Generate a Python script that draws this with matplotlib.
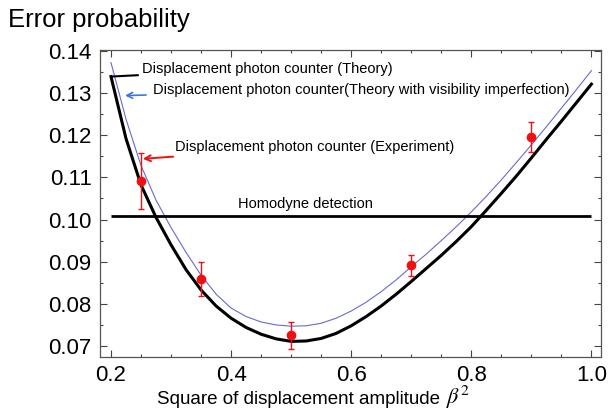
import matplotlib
matplotlib.use("Agg")
import matplotlib.pyplot as plt
from matplotlib.ticker import MultipleLocator

plt.rcParams["font.family"] = ["Liberation Sans", "DejaVu Sans"]
plt.rcParams["mathtext.fontset"] = "stix"

# beta^2 grid for the two theory curves
beta_sq = [0.200, 0.225, 0.250, 0.275, 0.300, 0.325, 0.350, 0.375, 0.400, 0.425,
           0.450, 0.475, 0.500, 0.525, 0.550, 0.575, 0.600, 0.625, 0.650, 0.675,
           0.700, 0.725, 0.750, 0.775, 0.800, 0.825, 0.850, 0.875, 0.900, 0.925,
           0.950, 0.975, 1.000]
theory = [0.1339, 0.1192, 0.1082, 0.1005, 0.0940, 0.0881, 0.0833, 0.0795, 0.0766, 0.0744,
          0.0728, 0.0717, 0.0711, 0.0712, 0.0718, 0.0730, 0.0748, 0.0770, 0.0795, 0.0823,
          0.0853, 0.0884, 0.0915, 0.0948, 0.0983, 0.1022, 0.1062, 0.1103, 0.1146, 0.1190,
          0.1233, 0.1277, 0.1321]
theory_vis = [0.1372, 0.1238, 0.1128, 0.1046, 0.0981, 0.0922, 0.0868, 0.0823, 0.0790, 0.0770,
              0.0757, 0.0750, 0.0747, 0.0748, 0.0754, 0.0766, 0.0783, 0.0804, 0.0829, 0.0857,
              0.0888, 0.0918, 0.0950, 0.0983, 0.1018, 0.1055, 0.1094, 0.1135, 0.1177, 0.1220,
              0.1264, 0.1308, 0.1353]

homodyne = 0.1008

exp_x = [0.25, 0.35, 0.50, 0.70, 0.90]
exp_y = [0.1091, 0.0859, 0.0725, 0.0891, 0.1196]
exp_err = [0.0066, 0.0041, 0.0033, 0.0025, 0.0035]

fig = plt.figure(figsize=(6.08, 4.13), dpi=100)
ax = fig.add_axes([100 / 608, 1 - 357 / 413, 501 / 608, 307 / 413])

ax.plot(beta_sq, theory_vis, color="#6a6ad0", lw=0.8, zorder=2)
ax.plot(beta_sq, theory, color="black", lw=2.2, zorder=3)
ax.hlines(homodyne, 0.2, 1.0, color="black", lw=2.0, zorder=3)
ax.errorbar(exp_x, exp_y, yerr=exp_err, fmt="o", color="#ee1111", ms=6,
            elinewidth=1.0, capsize=2.5, capthick=1.0, zorder=4)

ax.set_xlim(0.1817, 1.016)
ax.set_ylim(0.0674, 0.1402)
ax.xaxis.set_minor_locator(MultipleLocator(0.05))
ax.yaxis.set_minor_locator(MultipleLocator(0.005))
ax.set_xticks([0.2, 0.4, 0.6, 0.8, 1.0])
ax.set_xticklabels(["0.2", "0.4", "0.6", "0.8", "1.0"])
ax.set_yticks([0.07, 0.08, 0.09, 0.10, 0.11, 0.12, 0.13, 0.14])
ax.set_yticklabels(["0.07", "0.08", "0.09", "0.10", "0.11", "0.12", "0.13", "0.14"])
ax.tick_params(which="both", direction="in", top=True, right=True,
               labelsize=16, color="#444444", width=0.8)
ax.tick_params(which="major", length=5, pad=6)
ax.tick_params(which="minor", length=2.5)
for s in ax.spines.values():
    s.set_color("#555555")
    s.set_linewidth(0.9)

fig.text(440 / 608, 1 - 399 / 413, "Square of displacement amplitude",
         fontsize=13.5, ha="right", va="center")
fig.text(446 / 608, 1 - 397 / 413, r"$\beta^2$", fontsize=16, ha="left", va="center")
fig.text(8 / 608, 1 - 20 / 413, "Error probability", fontsize=18.5, va="center", ha="left")

# annotations
ax.annotate("Displacement photon counter (Theory)", xy=(0.2, 0.1339),
            xytext=(0.252, 0.1358), fontsize=10.5, va="center",
            arrowprops=dict(arrowstyle="-", color="black", lw=1.5, shrinkA=1, shrinkB=0))
ax.annotate("Displacement photon counter(Theory with visibility imperfection)",
            xy=(0.2233, 0.1294), xytext=(0.270, 0.1308), fontsize=10.5, va="center",
            arrowprops=dict(arrowstyle="->", color="#3a78e0", lw=1.2, shrinkA=3, shrinkB=0))
ax.annotate("Displacement photon counter (Experiment)", xy=(0.253, 0.1144),
            xytext=(0.307, 0.1173), fontsize=10.5, va="center",
            arrowprops=dict(arrowstyle="->", color="#ee1111", lw=1.4, shrinkA=3, shrinkB=0))
ax.text(0.523, homodyne + 0.0012, "Homodyne detection", fontsize=10.5, ha="center", va="bottom")

fig.savefig("out.png", dpi=100)
